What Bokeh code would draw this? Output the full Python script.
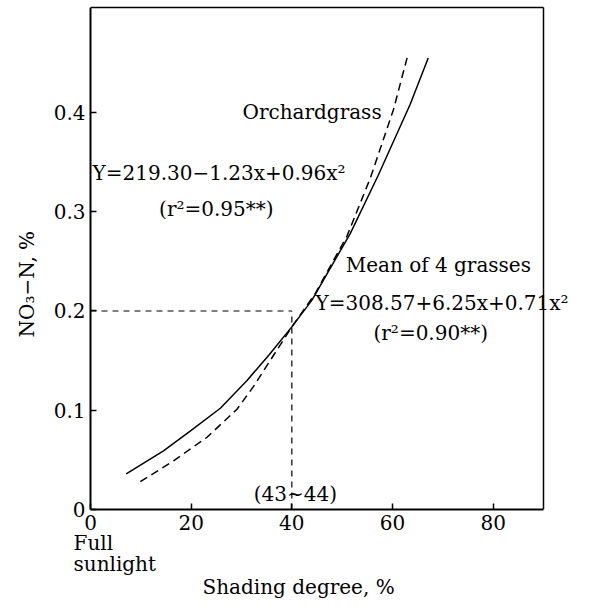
from bokeh.plotting import figure
from bokeh.models import Label, FixedTicker, Range1d, Title
from bokeh.embed import file_html
from bokeh.resources import INLINE

# ---- data ----
shading_ticks = [0, 20, 40, 60, 80]
no3_ticks = [0, 0.1, 0.2, 0.3, 0.4]
no3_tick_labels = {0: "0", 0.1: "0.1", 0.2: "0.2", 0.3: "0.3", 0.4: "0.4"}

# Mean of 4 grasses (solid)
mean_x = [7.1, 14.5, 19.8, 25.8, 31.1, 35.5, 40.0, 44.0, 51.6, 57.1, 63.5, 67.1]
mean_y = [0.036, 0.059, 0.079, 0.102, 0.130, 0.156, 0.184, 0.211, 0.278, 0.336, 0.408, 0.455]

# Orchardgrass (dashed)
orch_x = [9.9, 16.5, 23.2, 29.1, 32.4, 40.0, 44.7, 51.0, 55.6, 60.2, 62.9]
orch_y = [0.028, 0.049, 0.073, 0.101, 0.124, 0.184, 0.218, 0.276, 0.334, 0.403, 0.455]

# threshold guide (43~44 % shading at 0.2 % NO3-N)
threshold_x = 40
threshold_y = 0.2

# axis extents of the boxed panel
x_max = 90
y_max = 0.5058

FONT = "DejaVu Serif"
FS = "20px"

p = figure(width=582, height=598,
           x_range=Range1d(0, 97.75), y_range=Range1d(0, 0.5078),
           output_backend="svg", toolbar_location=None,
           min_border_left=90, min_border_right=0,
           min_border_top=5, min_border_bottom=89)

p.background_fill_color = "white"
p.border_fill_color = "white"
p.xgrid.visible = False
p.ygrid.visible = False
p.outline_line_color = None

for ax in (p.xaxis[0], p.yaxis[0]):
    ax.axis_line_color = "black"
    ax.axis_line_width = 2
    ax.major_tick_in = 6
    ax.major_tick_out = 0
    ax.major_tick_line_width = 1.5
    ax.minor_tick_line_color = None
    ax.major_label_text_font = FONT
    ax.major_label_text_font_size = FS
    ax.major_label_text_color = "black"
    ax.major_label_standoff = 5

p.xaxis.ticker = FixedTicker(ticks=shading_ticks)
p.yaxis.ticker = FixedTicker(ticks=no3_ticks)
p.yaxis.major_label_overrides = no3_tick_labels
p.xaxis.bounds = (0, x_max)
p.yaxis.bounds = (0, y_max)

# box top and right edges
p.line([0, x_max], [y_max, y_max], line_color="black", line_width=1.5)
p.line([x_max, x_max], [0, y_max], line_color="black", line_width=1.5)

# curves
p.line(mean_x, mean_y, line_color="black", line_width=1.5)
p.line(orch_x, orch_y, line_color="black", line_width=1.5, line_dash="8 5")

# guide lines
p.line([0, threshold_x], [threshold_y, threshold_y], line_color="black",
       line_width=1.2, line_dash="6 5")
p.line([threshold_x, threshold_x], [0, threshold_y], line_color="black",
       line_width=1.2, line_dash="6 5")


def lab(x, y, text, align="left"):
    p.add_layout(Label(x=x, y=y, text=text, text_font=FONT, text_font_size=FS,
                       text_color="black", text_align=align,
                       text_baseline="middle"))


lab(30.2, 0.400, "Orchardgrass")
lab(0.4, 0.3395, "Y=219.30\u22121.23x+0.96x\u00b2")
lab(25.0, 0.303, "(r\u00b2=0.95**)", align="center")
lab(50.7, 0.246, "Mean of 4 grasses")
lab(44.7, 0.2076, "Y=308.57+6.25x+0.71x\u00b2")
lab(67.6, 0.178, "(r\u00b2=0.90**)", align="center")
lab(40.7, 0.016, "(43~44)", align="center")


def title(text, side, offset, standoff, line_height=1.0):
    p.add_layout(Title(text=text, align="left", offset=offset,
                       standoff=standoff, text_font=FONT, text_font_size=FS,
                       text_font_style="normal", text_color="black",
                       text_line_height=line_height), side)


# texts outside the box
title("NO\u2083\u2212N, %", "left", 172, 24)
title("Full\nsunlight", "below", -17, -7, 0.86)
title("Shading degree, %", "below", 112, 0)

open("out.html", "w").write(file_html(p, INLINE))
